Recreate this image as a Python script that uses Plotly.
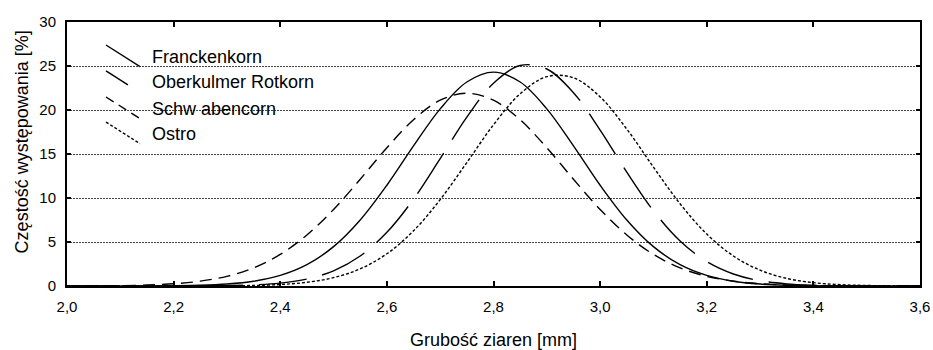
import plotly.graph_objects as go

# ---- data ----
x_mm = [2.00, 2.05, 2.10, 2.15, 2.20, 2.25, 2.30, 2.35, 2.40, 2.45, 2.50,
        2.55, 2.60, 2.65, 2.70, 2.75, 2.80, 2.85, 2.90, 2.95, 3.00, 3.05,
        3.10, 3.15, 3.20, 3.25, 3.30, 3.35, 3.40, 3.45, 3.50, 3.55, 3.60]

franckenkorn = [0.00, 0.00, 0.00, 0.01, 0.03, 0.08, 0.22, 0.54, 1.20, 2.42, 4.47,
                7.50, 11.45, 15.92, 20.13, 23.18, 24.30, 23.18, 20.13, 15.92, 11.45, 7.50,
                4.47, 2.42, 1.20, 0.54, 0.22, 0.08, 0.03, 0.01, 0.00, 0.00, 0.00]

oberkulmer = [0.00, 0.00, 0.00, 0.00, 0.00, 0.01, 0.04, 0.12, 0.33, 0.79, 1.73,
              3.41, 6.10, 9.87, 14.47, 19.19, 23.05, 25.06, 24.66, 21.97, 17.72, 12.94,
              8.55, 5.12, 2.77, 1.36, 0.60, 0.24, 0.09, 0.03, 0.01, 0.00, 0.00]

schwabencorn = [0.01, 0.02, 0.04, 0.11, 0.25, 0.55, 1.10, 2.06, 3.59, 5.80, 8.70,
                12.13, 15.71, 18.89, 21.11, 21.90, 21.11, 18.89, 15.71, 12.13, 8.70, 5.80,
                3.59, 2.06, 1.10, 0.55, 0.25, 0.11, 0.04, 0.02, 0.01, 0.00, 0.00]

ostro = [0.00, 0.00, 0.00, 0.00, 0.00, 0.01, 0.02, 0.06, 0.17, 0.42, 0.95,
         1.95, 3.66, 6.27, 9.82, 14.03, 18.32, 21.84, 23.79, 23.66, 21.49, 17.83,
         13.51, 9.34, 5.90, 3.41, 1.80, 0.86, 0.38, 0.15, 0.06, 0.02, 0.01]

series_names = ["Franckenkorn", "Oberkulmer Rotkorn", "Schw abencorn", "Ostro"]
series_values = [franckenkorn, oberkulmer, schwabencorn, ostro]

x_tick_vals = [2.0, 2.2, 2.4, 2.6, 2.8, 3.0, 3.2, 3.4, 3.6]
x_tick_labels = ["2,0", "2,2", "2,4", "2,6", "2,8", "3,0", "3,2", "3,4", "3,6"]
y_tick_vals = [0, 5, 10, 15, 20, 25, 30]
y_tick_labels = ["0", "5", "10", "15", "20", "25", "30"]

x_title = "Grubość ziaren [mm]"
y_title = "Częstość występowania [%]"

# ---- styles ----
dashes = ["solid", "48px,16px", "12px,7px", "3px,2px"]
legend_dashes = ["solid", "26px,40px", "9px,6px", "3px,2px"]
FONT = "Liberation Sans, Arial, sans-serif"

fig = go.Figure()
for name, vals, d in zip(series_names, series_values, dashes):
    fig.add_trace(go.Scatter(
        x=x_mm, y=vals, mode="lines", name=name,
        line=dict(color="black", width=1.4, dash=d, shape="spline", smoothing=1.0),
        showlegend=False, hoverinfo="x+y+name",
    ))

# custom legend (diagonal samples like the original)
leg_x0, leg_x1 = 0.0457, 0.0856
leg_txt_x = 0.0973
leg_rows = [0.869, 0.771, 0.672, 0.577]
for name, d, yc in zip(series_names, legend_dashes, leg_rows):
    fig.add_shape(type="line", xref="paper", yref="paper",
                  x0=leg_x0, y0=yc + 0.044, x1=leg_x1, y1=yc - 0.038,
                  line=dict(color="black", width=1.4, dash=d))
    fig.add_annotation(xref="paper", yref="paper", x=leg_txt_x, y=yc,
                       text=name, showarrow=False, xanchor="left", yanchor="middle",
                       font=dict(family=FONT, size=18, color="black"))

# y-axis title placed like the original (slightly above centre)
fig.add_annotation(xref="paper", yref="paper", x=-0.053, y=0.547,
                   text=y_title, textangle=-90, showarrow=False,
                   xanchor="center", yanchor="middle",
                   font=dict(family=FONT, size=18, color="black"))

fig.update_layout(
    width=933, height=350,
    margin=dict(l=67, r=13, t=22, b=64),
    paper_bgcolor="white", plot_bgcolor="white",
    font=dict(family=FONT, size=15, color="black"),
    showlegend=False,
)
fig.update_xaxes(
    range=[2.0, 3.6], tickvals=x_tick_vals, ticktext=x_tick_labels,
    showgrid=False, zeroline=False, automargin=False,
    showline=True, linecolor="black", linewidth=2, mirror="ticks",
    ticks="inside", ticklen=5, tickwidth=1.5, tickcolor="black",
    ticklabelstandoff=6,
    title=dict(text=x_title, font=dict(family=FONT, size=18), standoff=20),
)
fig.update_yaxes(
    range=[0, 30], tickvals=y_tick_vals, ticktext=y_tick_labels,
    showgrid=True, gridcolor="#444444", gridwidth=1, griddash="2px,1px",
    zeroline=False, automargin=False,
    showline=True, linecolor="black", linewidth=2, mirror="ticks",
    ticks="inside", ticklen=4, tickwidth=1.5, tickcolor="black",
    ticklabelstandoff=6,
)

fig.write_html("out.html",
               config={"displayModeBar": False},
               post_script="document.body.style.margin='0';document.body.style.overflow='hidden';")
